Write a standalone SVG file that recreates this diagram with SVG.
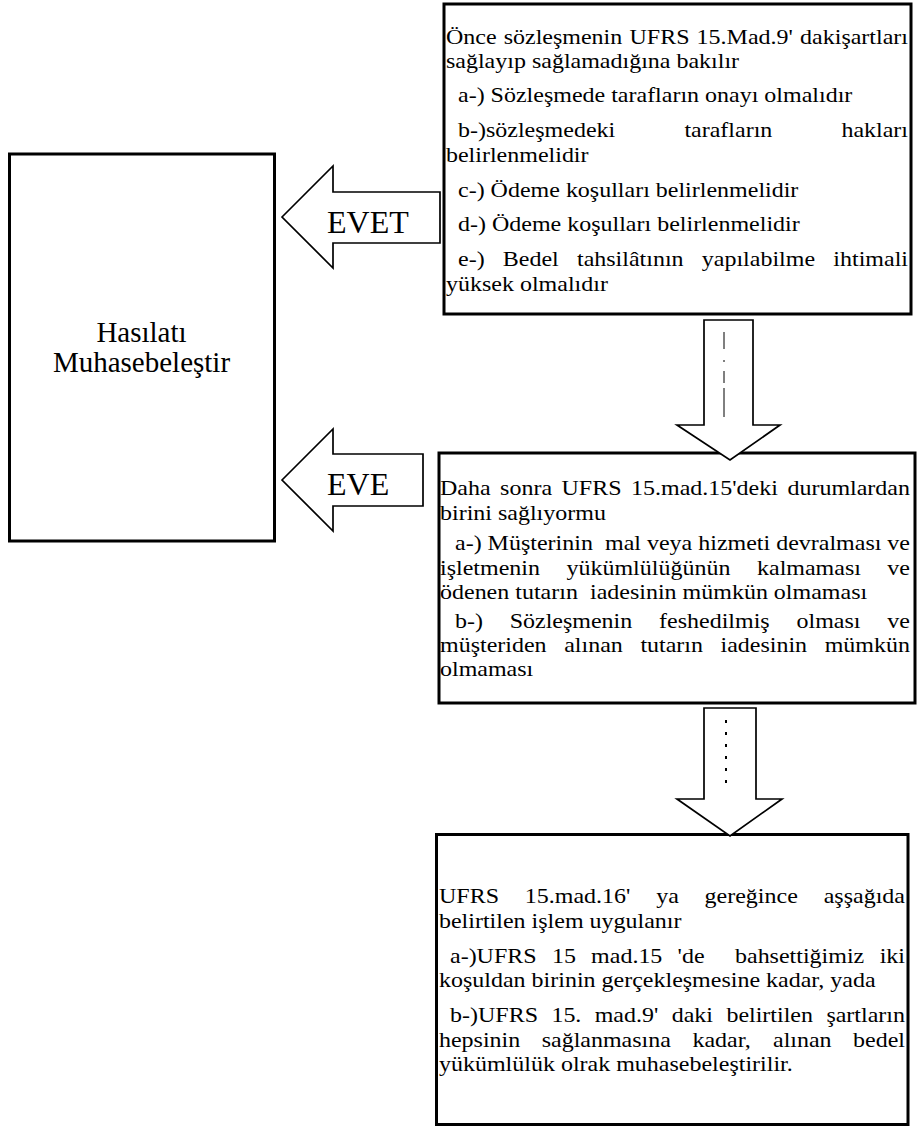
<svg xmlns="http://www.w3.org/2000/svg" width="917" height="1127" viewBox="0 0 917 1127">
<style>
text{font-family:"Liberation Serif","Times New Roman",serif;fill:#000}
.t{font-size:24px}
.e{font-size:24px;text-anchor:end}
.box{fill:#fff;stroke:#000;stroke-width:3}
.arr{fill:#fff;stroke:#000;stroke-width:1.7;stroke-linejoin:miter}
.lbl{font-size:32px}
.big{font-size:29px;text-anchor:middle}
</style>
<rect width="917" height="1127" fill="#fff"/>
<g id="node-hasilat">
<rect class="box" x="9.5" y="154" width="265" height="387" stroke-width="2.6"/>
<text class="big" x="141.5" y="342">Hasılatı</text>
<text class="big" x="141.5" y="372">Muhasebeleştir</text>
</g>
<g id="node-top">
<rect class="box" x="444" y="4" width="467" height="310"/>
<g transform="scale(1,0.88)">
<text class="t" y="50"><tspan x="446">Önce</tspan><tspan x="503.7">sözleşmenin</tspan><tspan x="629.5">UFRS</tspan><tspan x="696.6">15.Mad.9'</tspan></text>
<text class="e" x="908" y="50">dakişartları</text>
<text class="t" x="446" y="77.27">sağlayıp sağlamadığına bakılır</text>
<text class="t" x="458" y="115.91">a-) Sözleşmede tarafların onayı olmalıdır</text>
<text class="t" y="155.68"><tspan x="458">b-)sözleşmedeki</tspan><tspan x="684.4">tarafların</tspan></text>
<text class="e" x="908" y="155.68">hakları</text>
<text class="t" x="446" y="184.09">belirlenmelidir</text>
<text class="t" x="458" y="223.86">c-) Ödeme koşulları belirlenmelidir</text>
<text class="t" x="458" y="262.5">d-) Ödeme koşulları belirlenmelidir</text>
<text class="t" y="302.27"><tspan x="458">e-)</tspan><tspan x="502.8">Bedel</tspan><tspan x="577">tahsilâtının</tspan><tspan x="701.8">yapılabilme</tspan></text>
<text class="e" x="908" y="302.27">ihtimali</text>
<text class="t" x="446" y="330.68">yüksek olmalıdır</text>
</g>
</g>
<g id="node-middle">
<rect class="box" x="439" y="453" width="476" height="250"/>
<g transform="scale(1,0.88)">
<text class="t" y="562.5"><tspan x="440">Daha</tspan><tspan x="500.1">sonra</tspan><tspan x="561.5">UFRS</tspan><tspan x="631">15.mad.15'deki</tspan></text>
<text class="e" x="910" y="562.5">durumlardan</text>
<text class="t" x="440" y="590.91">birini sağlıyormu</text>
<text class="t" y="625"><tspan x="455">a-) Müşterinin</tspan><tspan x="605">mal veya hizmeti devralması</tspan></text>
<text class="e" x="910" y="625">ve</text>
<text class="t" y="653.41"><tspan x="440">işletmenin</tspan><tspan x="566.5">yükümlülüğünün</tspan><tspan x="757">kalmaması</tspan></text>
<text class="e" x="910" y="653.41">ve</text>
<text class="t" y="680.68"><tspan x="440">ödenen tutarın</tspan><tspan x="590">iadesinin mümkün olmaması</tspan></text>
<text class="t" y="713.64"><tspan x="455">b-)</tspan><tspan x="509.7">Sözleşmenin</tspan><tspan x="659.1">feshedilmiş</tspan><tspan x="796.5">olması</tspan></text>
<text class="e" x="910" y="713.64">ve</text>
<text class="t" y="740.91"><tspan x="440">müşteriden</tspan><tspan x="564.2">alınan</tspan><tspan x="640.4">tutarın</tspan><tspan x="720.5">iadesinin</tspan></text>
<text class="e" x="910" y="740.91">mümkün</text>
<text class="t" x="440" y="768.18">olmaması</text>
</g>
</g>
<g id="node-bottom">
<rect class="box" x="436.5" y="834.5" width="471.5" height="290"/>
<g transform="scale(1,0.88)">
<text class="t" y="1026.14"><tspan x="439">UFRS</tspan><tspan x="524.8">15.mad.16'</tspan><tspan x="656.2">ya</tspan><tspan x="704.6">gereğince</tspan></text>
<text class="e" x="905" y="1026.14">aşşağıda</text>
<text class="t" x="439" y="1054.55">belirtilen işlem uygulanır</text>
<text class="t" y="1094.32"><tspan x="450">a-)UFRS</tspan><tspan x="551.9">15</tspan><tspan x="591.1">mad.15</tspan><tspan x="677.6">'de</tspan><tspan x="735">bahsettiğimiz</tspan></text>
<text class="e" x="905" y="1094.32">iki</text>
<text class="t" x="439" y="1121.59">koşuldan birinin gerçekleşmesine kadar, yada</text>
<text class="t" y="1161.36"><tspan x="450">b-)UFRS</tspan><tspan x="551.4">15.</tspan><tspan x="594.7">mad.9'</tspan><tspan x="671.7">daki</tspan><tspan x="726.4">belirtilen</tspan></text>
<text class="e" x="905" y="1161.36">şartların</text>
<text class="t" y="1189.77"><tspan x="439">hepsinin</tspan><tspan x="541.7">sağlanmasına</tspan><tspan x="692.4">kadar,</tspan><tspan x="773">alınan</tspan></text>
<text class="e" x="905" y="1189.77">bedel</text>
<text class="t" x="439" y="1217.05">yükümlülük olrak muhasebeleştirilir.</text>
</g>
</g>
<g id="connectors">
<g id="arrow-evet">
<polygon class="arr" points="282,217 333,166 333,192 440,192 440,243 333,243 333,268"/>
<text class="lbl" x="327" y="233">EVET</text>
</g>
<g id="arrow-eve">
<polygon class="arr" points="282,480 333,429 333,454 423,454 423,506 333,506 333,531"/>
<text class="lbl" x="327" y="495">EVE</text>
</g>
<g id="arrow-down-1">
<polygon class="arr" points="704,320 753,320 753,425 780,425 730,460 677,425 704,425"/>
<line x1="724" y1="332" x2="724" y2="417" stroke="#000" stroke-width="1" stroke-dasharray="17 11 2 9 12 5 29"/>
</g>
<g id="arrow-down-2">
<polygon class="arr" points="704,708 756,708 756,799 782,799 730,836 677,799 704,799"/>
<line x1="726" y1="720" x2="726" y2="790" stroke="#000" stroke-width="2" stroke-dasharray="3 9"/>
</g>
</g>
</svg>
